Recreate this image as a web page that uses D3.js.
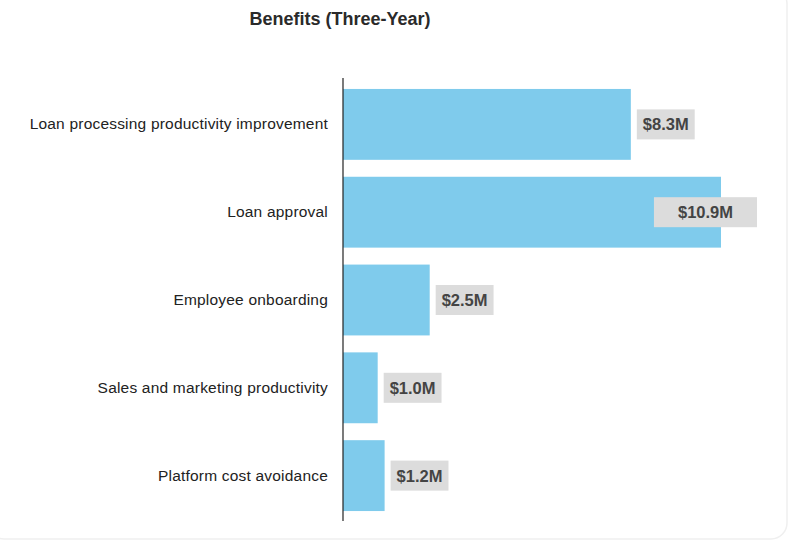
<!DOCTYPE html>
<html><head><meta charset="utf-8">
<script src="https://cdn.jsdelivr.net/npm/d3@7"></script>
<style>body{margin:0;background:#fff;}svg{display:block;font-family:"Liberation Sans",Arial,sans-serif;}</style>
</head><body>
<svg id="c" width="789" height="541"></svg>
<script>
const categories = ["Loan processing productivity improvement","Loan approval","Employee onboarding","Sales and marketing productivity","Platform cost avoidance"];
const values = [8.3, 10.9, 2.5, 1.0, 1.2];
const valueLabels = ["$8.3M","$10.9M","$2.5M","$1.0M","$1.2M"];
const title = "Benefits (Three-Year)";

const svg = d3.select("#c");
svg.append("rect").attr("x",-12).attr("y",-12).attr("width",799).attr("height",551).attr("rx",16)
  .attr("fill","none").attr("stroke","#efefef").attr("stroke-width",1.5);

const x0 = 343;
const x = d3.scaleLinear().domain([0, 10.9]).range([x0, 721]);
const y = d3.scaleBand().domain(categories).range([80, 520]).paddingInner(0.193).paddingOuter(0.102);

svg.append("text").attr("x",340).attr("y",24.5).attr("text-anchor","middle")
  .attr("font-size",18).attr("font-weight","bold").attr("fill","#2a2a2a").text(title);

svg.selectAll("rect.bar").data(values).join("rect").attr("class","bar")
  .attr("x", x0).attr("y",(d,i)=>y(categories[i])).attr("width",d=>x(d)-x0)
  .attr("height",y.bandwidth()).attr("fill","#7fcbec");

const yAxis = d3.axisLeft(y).tickSize(0).tickPadding(15);
const ga = svg.append("g").attr("transform",`translate(${x0},0)`).call(yAxis);
ga.select(".domain").remove();
ga.selectAll("text").attr("font-size",15.5).attr("letter-spacing","0.2px").attr("fill","#222")
  .attr("font-family","Liberation Sans, Arial, sans-serif");
svg.append("line").attr("x1",x0).attr("x2",x0).attr("y1",78).attr("y2",521).attr("stroke","#222").attr("stroke-width",1.2);

const rightLimit = 757;
values.forEach((v,i)=>{
  const cy = y(categories[i]) + y.bandwidth()/2;
  const g = svg.append("g");
  const t = g.append("text").attr("y",cy).attr("dy","0.36em").attr("font-size",16.5).attr("font-weight","bold")
    .attr("fill","#444").attr("text-anchor","middle").text(valueLabels[i]);
  const w = t.node().getComputedTextLength();
  let bx = x(v) + 6, bw = w + 12;
  if (bx + bw > rightLimit) { bw = w + 48; bx = rightLimit - bw; }
  g.insert("rect","text").attr("x",bx).attr("y",cy-15).attr("width",bw).attr("height",30).attr("fill","#dcdcdc");
  t.attr("x",bx + bw/2);
});
</script>
</body></html>
